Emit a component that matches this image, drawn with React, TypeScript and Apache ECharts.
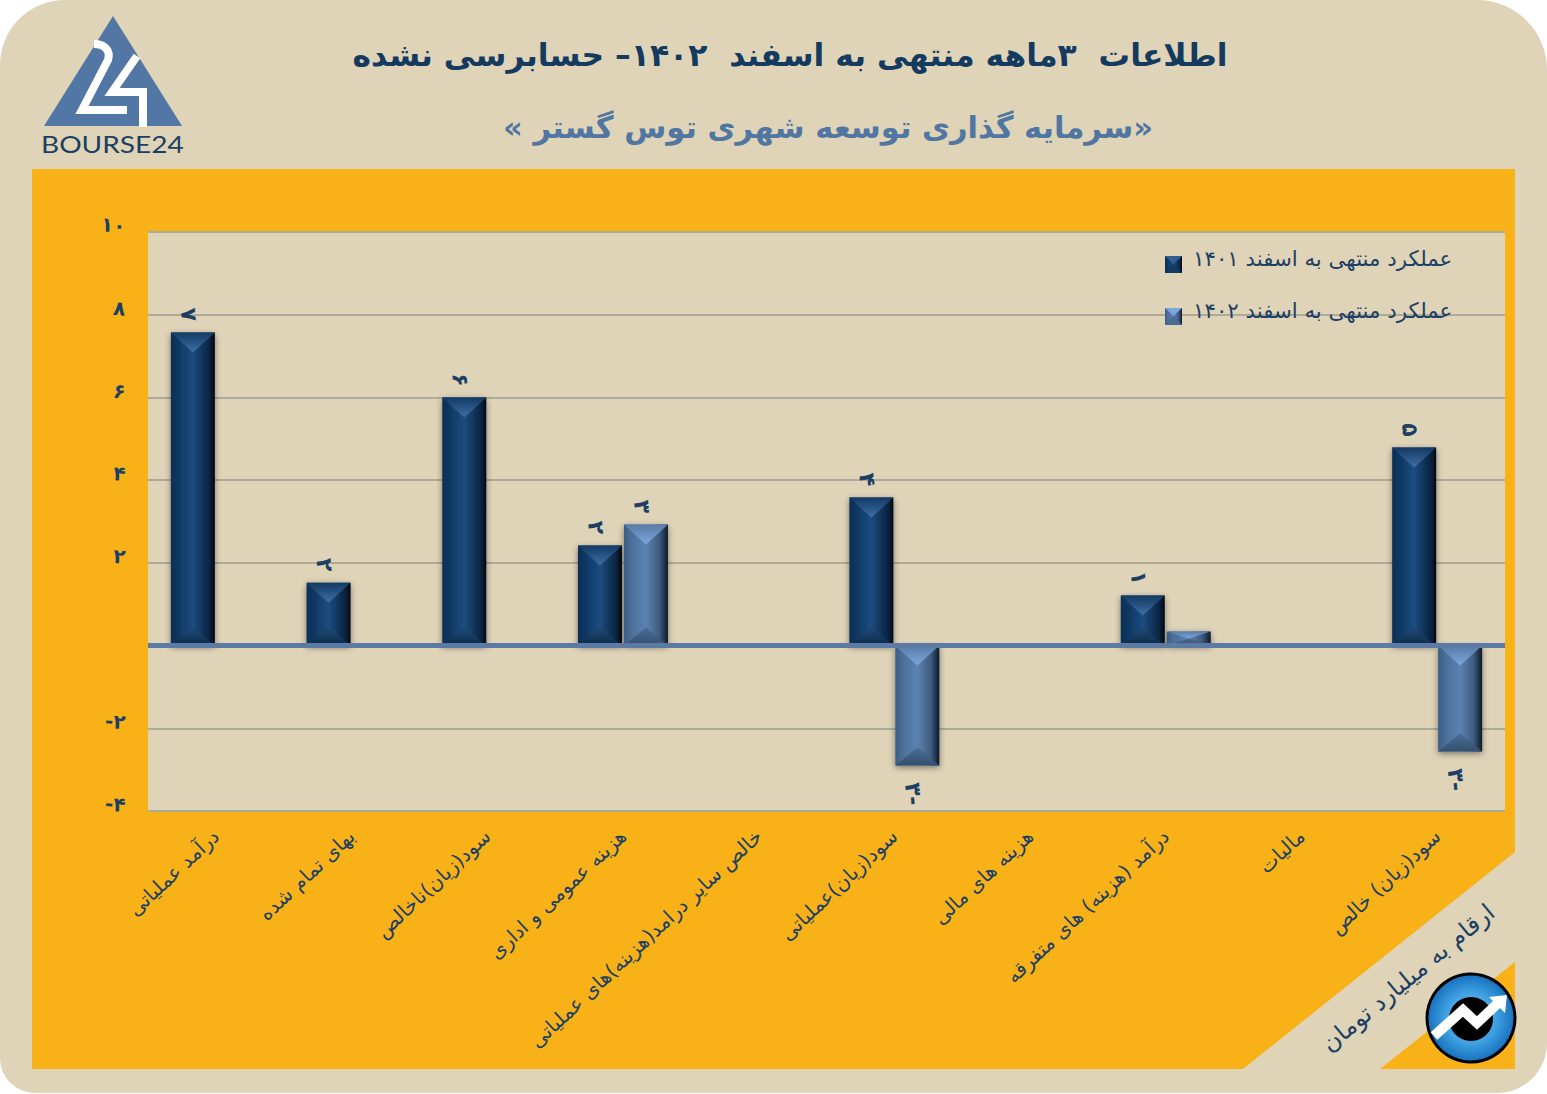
import React, { useEffect, useRef } from "react";
import * as echarts from "echarts";

const categories = [
  "درآمد عملیاتی",
  "بهای تمام شده",
  "سود(زیان)ناخالص",
  "هزینه عمومی و اداری",
  "خالص سایر درامد(هزینه)های عملیاتی",
  "سود(زیان)عملیاتی",
  "هزینه های مالی",
  "درآمد (هزینه) های متفرقه",
  "مالیات",
  "سود(زیان) خالص",
];
const values1401 = [7.57, 1.52, 6.0, 2.42, null, 3.58, null, 1.21, null, 4.79];
const values1402 = [null, null, null, 2.93, null, -2.9, null, 0.34, null, -2.56];
const labels1401 = ["۷", "۲", "۶", "۲", "", "۴", "", "۱", "", "۵"];
const labels1402 = ["", "", "", "۳", "", "\u200F-۳", "", "", "", "\u200F-۳"];
const yTickValues = [-4, -2, 0, 2, 4, 6, 8, 10];
const yTickLabels = ["-۴", "-۲", "", "۲", "۴", "۶", "۸", "۱۰"];
const seriesNames = ["عملکرد منتهی به اسفند ۱۴۰۱", "عملکرد منتهی به اسفند ۱۴۰۲"];
const titleMain = "اطلاعات  ۳ماهه منتهی به اسفند  ۱۴۰۲– حسابرسی نشده";
const titleSub = "\u200F«سرمایه گذاری توسعه شهری توس گستر »\u200F";
const unitNote = "ارقام به میلیارد تومان";

const FONT = "'DejaVu Sans', sans-serif";
const NAVY = "#1c3f63";
const BEIGE = "#dfd3b8";
const ORANGE = "#f8b218";
const STEEL = "#5277a4";

echarts.graphic.registerShape("logoTwo", echarts.graphic.extendPath("M94 44 C104 44 111 50 108 60 L82 110 L127 110", {}));
echarts.graphic.registerShape("logoFour", echarts.graphic.extendPath("M137 56 L112 92 L143 92 L143 127", {}));

const hGrad = (stops: [number, string][]) => ({
  type: "linear", x: 0, y: 0, x2: 1, y2: 0,
  colorStops: stops.map(([offset, color]) => ({ offset, color })),
});
const vGrad = (a: string, b: string) => ({
  type: "linear", x: 0, y: 0, x2: 0, y2: 1,
  colorStops: [{ offset: 0, color: a }, { offset: 1, color: b }],
});

const fill1401 = hGrad([[0, "#0f2f52"], [0.12, "#0c355f"], [0.5, "#1c4c7f"], [0.85, "#0b2745"], [1, "#030a14"]]);
const fill1402 = hGrad([[0, "#3c5d84"], [0.15, "#4a6e98"], [0.5, "#5c82b2"], [0.8, "#3f5c80"], [1, "#0f1a2a"]]);

const BAR = 44;
const OFFSET = 23;

const bevel = (offset: number, topA: string, topB: string, botA: string, botB: string) => (_p: any, api: any) => {
  const idx = api.value(0);
  const v = api.value(1);
  const base = api.coord([idx, 0]);
  const end = api.coord([idx, v]);
  const cx = base[0] + offset;
  const left = cx - BAR / 2;
  const right = cx + BAR / 2;
  const top = Math.min(base[1], end[1]);
  const bottom = Math.max(base[1], end[1]);
  const d = Math.min(BAR / 2 - 2, (bottom - top) / 2);
  const db = Math.min(BAR / 2 - 4, (bottom - top) / 2);
  return {
    type: "group",
    children: [
      { type: "polygon", shape: { points: [[left, top], [right, top], [cx, top + d]] }, style: { fill: vGrad(topA, topB) } },
      { type: "polygon", shape: { points: [[left, bottom], [right, bottom], [cx, bottom - db]] }, style: { fill: vGrad(botA, botB) } },
    ],
  };
};

const barData = (vals: (number | null)[], labels: string[]) =>
  vals.map((value, i) => ({
    value,
    label: {
      show: labels[i] !== "",
      formatter: labels[i],
      position: value !== null && value < 0 ? "bottom" : "top",
      distance: value !== null && value < 0 ? 28 : 18,
      offset: [0, 4],
    },
  }));

const pairs = (vals: (number | null)[]) =>
  vals.map((v, i) => [i, v]).filter((p) => p[1] !== null);

function App() {
  const ref = useRef<HTMLDivElement>(null);
  useEffect(() => {
    const chart = echarts.init(ref.current!, null, { renderer: "svg" });
    const barLabel = {
      rotate: -85,
      align: "center",
      verticalAlign: "middle",
      color: NAVY,
      fontFamily: FONT,
      fontWeight: "bold",
      fontSize: 22,
    };
    const option: any = {
      animation: false,
      backgroundColor: "#ffffff",
      title: [
        { text: titleMain, left: 785, top: 34, textAlign: "center", textStyle: { color: "#143a5f", fontFamily: FONT, fontWeight: "bold", fontSize: 31.4 } },
        { text: titleSub, left: 823, top: 107, textAlign: "center", textStyle: { color: "#5076a1", fontFamily: FONT, fontWeight: "bold", fontSize: 30.5 } },
      ],
      grid: { left: 148, top: 232, width: 1357, height: 579, show: true, backgroundColor: BEIGE, borderWidth: 0 },
      legend: {
        data: seriesNames,
        orient: "vertical",
        left: 1165,
        top: 243,
        padding: 0,
        icon: "path://M0 0 L0 0 M0 13 H17 V30 H0 Z",
        itemWidth: 17,
        itemHeight: 30,
        itemGap: 22,
        selectedMode: false,
        textStyle: { color: NAVY, fontFamily: FONT, fontSize: 21.3, padding: [0, 0, 0, 6] },
      },
      xAxis: [
        {
          type: "category",
          data: categories,
          position: "bottom",
          axisLine: { onZero: false, show: false },
          axisTick: { show: false },
          axisLabel: { interval: 0, rotate: 43, margin: 22, color: NAVY, fontFamily: FONT, fontSize: 20 },
        },
        {
          type: "category",
          data: categories,
          position: "bottom",
          z: 6,
          axisLine: { onZero: true, lineStyle: { color: "#5b7ba4", width: 5, cap: "butt" } },
          axisTick: { show: false },
          axisLabel: { show: false },
        },
      ],
      yAxis: {
        type: "value",
        min: -4,
        max: 10,
        interval: 2,
        axisLine: { show: false },
        axisTick: { show: false },
        splitLine: { show: true, lineStyle: { color: "#aeaa99", width: 2 } },
        axisLabel: {
          margin: 23,
          rotate: -5,
          color: NAVY,
          fontFamily: FONT,
          fontWeight: "bold",
          fontSize: 20,
          verticalAlign: "bottom",
          lineHeight: 12,
          formatter: (v: number) => yTickLabels[yTickValues.indexOf(v)] ?? "",
        },
      },
      series: [
        {
          name: seriesNames[0],
          type: "bar",
          barWidth: BAR,
          barGap: "4.5%",
          data: barData(values1401, labels1401),
          label: barLabel,
          itemStyle: { color: fill1401, shadowBlur: 6, shadowColor: "rgba(0,0,0,0.45)", shadowOffsetY: 2 },
          z: 2,
        },
        {
          name: seriesNames[1],
          type: "bar",
          barWidth: BAR,
          barGap: "4.5%",
          data: barData(values1402, labels1402),
          label: barLabel,
          itemStyle: { color: fill1402, shadowBlur: 6, shadowColor: "rgba(0,0,0,0.45)", shadowOffsetY: 2 },
          z: 2,
        },
        {
          type: "custom",
          silent: true,
          z: 3,
          clip: false,
          encode: { x: 0, y: 1 },
          data: pairs(values1401),
          renderItem: bevel(-OFFSET, "#123a63", "#3f6fa5", "#1e4a75", "#0c2a49"),
        },
        {
          type: "custom",
          silent: true,
          z: 3,
          clip: false,
          encode: { x: 0, y: 1 },
          data: pairs(values1402),
          renderItem: bevel(OFFSET, "#587ba6", "#7da7dc", "#4a6c93", "#34506f"),
        },
      ],
      graphic: [
        { type: "rect", z: -10, silent: true, shape: { x: 0, y: 0, width: 1547, height: 1093, r: [65, 70, 50, 35] }, style: { fill: BEIGE } },
        { type: "rect", z: -9, silent: true, shape: { x: 32, y: 169, width: 1483, height: 900 }, style: { fill: ORANGE } },
        { type: "polygon", z: -8, silent: true, shape: { points: [[1515, 852], [1243, 1069], [1380, 1069], [1515, 962]] }, style: { fill: BEIGE } },
        { type: "polygon", z: 10, silent: true, shape: { points: [[113, 16], [182, 126], [44, 126]] }, style: { fill: STEEL } },
        { type: "logoTwo", z: 11, silent: true, x: 0, y: 0, style: { fill: "none", stroke: "#ffffff", lineWidth: 8 } },
        { type: "logoFour", z: 11, silent: true, x: 0, y: 0, style: { fill: "none", stroke: "#ffffff", lineWidth: 8 } },
        { type: "text", z: 11, silent: true, x: 41, y: 144, scaleX: 1.17, style: { text: "BOURSE24", fill: NAVY, font: "24px Lato, sans-serif", textAlign: "left", textVerticalAlign: "middle", verticalAlign: "middle" } },
        { type: "text", z: 11, silent: true, x: 1408, y: 978, rotation: 0.69, style: { text: unitNote, fill: NAVY, font: "24px " + FONT, textAlign: "center", textVerticalAlign: "middle", verticalAlign: "middle" } },
        { type: "circle", z: 12, silent: true, shape: { cx: 1471, cy: 1018, r: 44 }, style: { fill: { type: "radial", x: 0.5, y: 0.5, r: 0.5, colorStops: [{ offset: 0, color: "#8ed2f7" }, { offset: 0.6, color: "#3c9fe0" }, { offset: 1, color: "#176fbd" }] }, stroke: "#000000", lineWidth: 3 } },
        { type: "circle", z: 13, silent: true, shape: { cx: 1471, cy: 1019, r: 22 }, style: { fill: "#000000" } },
        { type: "polyline", z: 14, silent: true, shape: { points: [[1434, 1036], [1463, 1010], [1477, 1023], [1497, 1004]] }, style: { fill: "none", stroke: "#ffffff", lineWidth: 10 } },
        { type: "polygon", z: 14, silent: true, shape: { points: [[1507, 995], [1505, 1013], [1489, 997]] }, style: { fill: "#ffffff" } },
        { type: "polygon", z: 10, silent: true, shape: { points: [[1165, 256], [1182, 256], [1173.5, 264]] }, style: { fill: "#2f5f93" } },
        { type: "polygon", z: 10, silent: true, shape: { points: [[1165, 273], [1182, 273], [1173.5, 264]] }, style: { fill: "#123a63" } },
        { type: "polygon", z: 10, silent: true, shape: { points: [[1165, 308], [1182, 308], [1173.5, 316]] }, style: { fill: "#7da7dc" } },
        { type: "polygon", z: 10, silent: true, shape: { points: [[1165, 325], [1182, 325], [1173.5, 316]] }, style: { fill: "#4a6c93" } },
      ],
    };
    chart.setOption(option);
    return () => chart.dispose();
  }, []);
  return <div ref={ref} style={{ position: "absolute", left: 0, top: 0, width: 1547, height: 1094 }} />;
}

export default App;
